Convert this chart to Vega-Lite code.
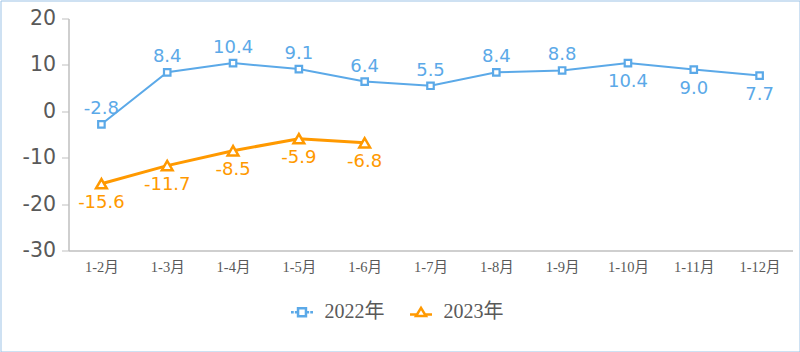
{
  "$schema": "https://vega.github.io/schema/vega-lite/v6.json",
  "width": 799,
  "height": 351,
  "autosize": {"type": "none"},
  "padding": {"left": 0.5, "top": 0.5, "right": 0.5, "bottom": 0.5},
  "background": "white",
  "config": {
    "view": {"stroke": "#9DC3E6", "strokeWidth": 1},
    "locale": {"number": {"decimal": ".", "thousands": ",", "grouping": [3], "currency": ["", ""], "minus": "-"}}
  },
  "data": {
    "values": [
      {"month": "1-2月", "series": "2022年", "value": -2.8},
      {"month": "1-3月", "series": "2022年", "value": 8.4},
      {"month": "1-4月", "series": "2022年", "value": 10.4},
      {"month": "1-5月", "series": "2022年", "value": 9.1},
      {"month": "1-6月", "series": "2022年", "value": 6.4},
      {"month": "1-7月", "series": "2022年", "value": 5.5},
      {"month": "1-8月", "series": "2022年", "value": 8.4},
      {"month": "1-9月", "series": "2022年", "value": 8.8},
      {"month": "1-10月", "series": "2022年", "value": 10.4},
      {"month": "1-11月", "series": "2022年", "value": 9.0},
      {"month": "1-12月", "series": "2022年", "value": 7.7},
      {"month": "1-2月", "series": "2023年", "value": -15.6},
      {"month": "1-3月", "series": "2023年", "value": -11.7},
      {"month": "1-4月", "series": "2023年", "value": -8.5},
      {"month": "1-5月", "series": "2023年", "value": -5.9},
      {"month": "1-6月", "series": "2023年", "value": -6.8}
    ]
  },
  "encoding": {
    "x": {
      "field": "month",
      "type": "nominal",
      "sort": ["1-2月", "1-3月", "1-4月", "1-5月", "1-6月", "1-7月", "1-8月", "1-9月", "1-10月", "1-11月", "1-12月"],
      "scale": {"type": "point", "range": [68, 792], "padding": 0.5},
      "axis": {
        "title": null,
        "offset": -101,
        "labelAngle": 0,
        "ticks": false,
        "grid": false,
        "domainColor": "#BFBFBF",
        "domainWidth": 1.5,
        "labelFont": "Liberation Serif, Noto Sans CJK SC",
        "labelFontSize": 14.5,
        "labelColor": "#595959",
        "labelPadding": 10
      }
    },
    "y": {
      "field": "value",
      "type": "quantitative",
      "scale": {"domain": [-30, 20], "range": [250, 18], "nice": false, "zero": false},
      "axis": {
        "title": null,
        "offset": -68,
        "values": [-30, -20, -10, 0, 10, 20],
        "grid": false,
        "domainColor": "#BFBFBF",
        "domainWidth": 1.5,
        "tickColor": "#BFBFBF",
        "tickSize": 7,
        "labelPadding": 6,
        "labelFont": "DejaVu Sans",
        "labelFontSize": 20.5,
        "labelColor": "#595959"
      }
    }
  },
  "layer": [
    {
      "mark": {"type": "line"},
      "encoding": {
        "color": {
          "field": "series",
          "type": "nominal",
          "scale": {"domain": ["2022年", "2023年"], "range": ["#5BA9E8", "#FF9900"]},
          "legend": {
            "orient": "none",
            "legendX": 289,
            "legendY": 299,
            "direction": "horizontal",
            "title": null,
            "labelFont": "Liberation Serif, Noto Sans CJK SC",
            "labelFontSize": 20,
            "labelColor": "#595959",
            "symbolSize": 484,
            "symbolStrokeWidth": 2.5,
            "labelOffset": 10,
            "columnPadding": 20,
            "encode": {
              "symbols": {
                "update": {
                  "shape": {"signal": "datum.value == '2022年' ? 'M-1,0H-0.75M-0.65,0H-0.45M0.45,0H0.65M0.75,0H1M-0.36,-0.36H0.36V0.36H-0.36Z' : 'M-1,0.2H-0.36M0.36,0.2H1M0,-0.4L0.45,0.35H-0.45Z'"},
                  "fill": {"value": "white"},
                  "fillOpacity": {"value": 1}
                }
              }
            }
          }
        },
        "strokeWidth": {"condition": {"test": "datum.series == '2023年'", "value": 3}, "value": 2}
      }
    },
    {
      "transform": [{"filter": "datum.series == '2022年'"}],
      "mark": {"type": "point", "shape": "square", "size": 42, "filled": true, "fill": "white", "stroke": "#5BA9E8", "strokeWidth": 2.2, "opacity": 1}
    },
    {
      "transform": [{"filter": "datum.series == '2023年'"}],
      "mark": {"type": "point", "shape": "triangle-up", "size": 115, "filled": true, "fill": "white", "stroke": "#FF9900", "strokeWidth": 2.5, "opacity": 1}
    },
    {
      "transform": [{"filter": "datum.series == '2022年' && indexof(['1-10月','1-11月','1-12月'], datum.month) < 0"}],
      "mark": {"type": "text", "font": "DejaVu Sans", "fontSize": 18, "baseline": "bottom", "dy": -6, "fill": "#5BA9E8"},
      "encoding": {"text": {"field": "value", "type": "quantitative", "format": ".1f"}}
    },
    {
      "transform": [{"filter": "datum.series == '2023年' || indexof(['1-10月','1-11月','1-12月'], datum.month) >= 0"}],
      "mark": {"type": "text", "font": "DejaVu Sans", "fontSize": 18, "baseline": "top", "dy": 10},
      "encoding": {
        "text": {"field": "value", "type": "quantitative", "format": ".1f"},
        "fill": {"condition": {"test": "datum.series == '2022年'", "value": "#5BA9E8"}, "value": "#FF9900"}
      }
    }
  ]
}
